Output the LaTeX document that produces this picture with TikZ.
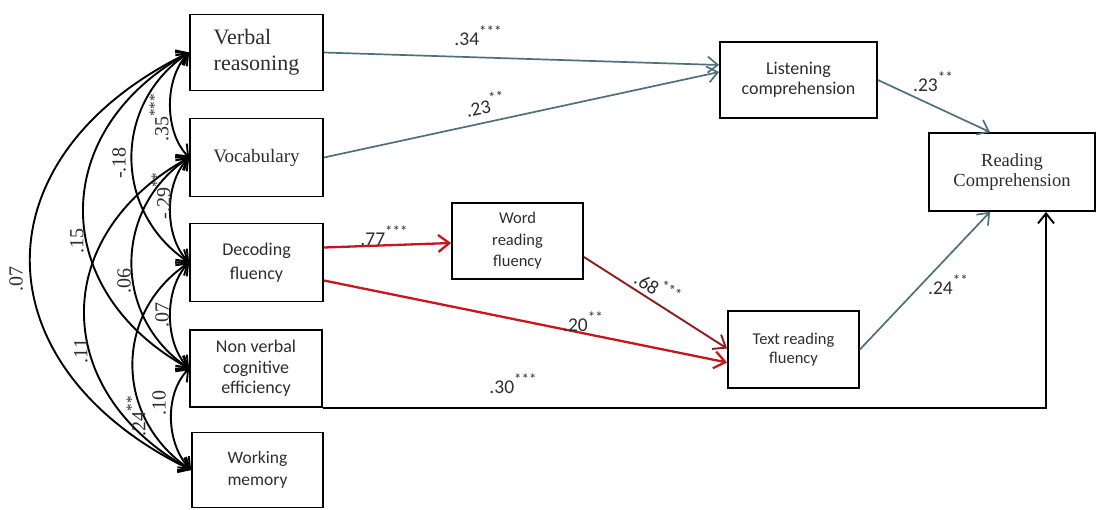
\documentclass[tikz,border=0pt]{standalone}
\usepackage{fontspec}
\setmainfont{Carlito}
\newfontfamily\serifbox{Liberation Serif}
\usetikzlibrary{arrows.meta}
\definecolor{tealc}{RGB}{78,112,124}
\definecolor{redc}{RGB}{200,22,30}
\definecolor{dredc}{RGB}{140,30,30}
\definecolor{txt}{RGB}{45,45,45}
\newcommand\sig[1]{\raisebox{0.45em}{\fontsize{15}{15}\selectfont #1}}
\begin{document}
\begin{tikzpicture}[x=1pt,y=-1pt,
  box/.style={draw=black, line width=1.8pt, inner sep=0pt, align=center, text=txt},
  corr/.style={draw=black, line width=1.9pt, {Straight Barb[length=10pt,width=16pt]}-{Straight Barb[length=10pt,width=16pt]}},
  tarrow/.style={draw=tealc, line width=1.7pt, -{Straight Barb[length=10pt,width=16pt]}},
  rarrow/.style={draw=redc, line width=2.3pt, -{Straight Barb[length=11pt,width=17pt]}},
  drarrow/.style={draw=dredc, line width=1.9pt, -{Straight Barb[length=11pt,width=17pt]}},
  barrow/.style={draw=black, line width=1.9pt, -{Straight Barb[length=10pt,width=16pt]}},
  lab/.style={font=\fontsize{19.5}{22}\selectfont, text=txt, inner sep=1pt},
  slab/.style={font=\serifbox\fontsize{20}{22}\selectfont, text=txt, inner sep=1pt, rotate=90},
  sa/.style={out=226,in=134,distance=36pt},
  sb/.style={out=214,in=146,distance=92pt},
  sc/.style={out=209,in=151,distance=161pt},
  sd/.style={out=206,in=154,distance=237pt}
]
\useasboundingbox (0,0) rectangle (1097,509);

% left boxes
\node[box, minimum width=133pt, minimum height=76pt, align=left, font=\serifbox\fontsize{22}{26}\selectfont] (vr) at (256.5,52.5) {Verbal\\reasoning};
\node[box, minimum width=133pt, minimum height=78pt, font=\serifbox\fontsize{19}{22}\selectfont] (voc) at (256.5,157.5) {Vocabulary};
\node[box, minimum width=133pt, minimum height=78pt, font=\fontsize{18}{24}\selectfont] (dec) at (256.5,262.5) {Decoding\\fluency};
\node[box, minimum width=132pt, minimum height=77pt, font=\fontsize{18}{20.5}\selectfont] (nv) at (256,368.5) {Non verbal\\cognitive\\efficiency};
\node[box, minimum width=131pt, minimum height=75pt, font=\fontsize{17.5}{22}\selectfont] (wm) at (257.5,470) {Working\\memory};

% right boxes
\node[box, minimum width=157pt, minimum height=76pt, font=\fontsize{18}{20.5}\selectfont] (lc) at (798.5,80) {Listening\\comprehension};
\node[box, minimum width=166pt, minimum height=78pt, font=\serifbox\fontsize{18.5}{20.5}\selectfont] (rc) at (1012,172) {Reading\\Comprehension};
\node[box, minimum width=131pt, minimum height=76pt, font=\fontsize{16.5}{21.5}\selectfont] (wrf) at (517.5,241) {Word\\reading\\fluency};
\node[box, minimum width=131pt, minimum height=77pt, font=\fontsize{16.5}{19.5}\selectfont] (trf) at (793.5,349.5) {Text reading\\fluency};

% correlations
\draw[corr] (vr.west) to[sa] (voc.west);
\draw[corr] (vr.west) to[sb] (dec.west);
\draw[corr] (vr.west) to[sc] (nv.west);
\draw[corr] (vr.west) to[sd] (wm.west);
\draw[corr] (voc.west) to[sa] (dec.west);
\draw[corr] (voc.west) to[sb] (nv.west);
\draw[corr] (voc.west) to[sc] (wm.west);
\draw[corr] (dec.west) to[sa] (nv.west);
\draw[corr] (dec.west) to[sb] (wm.west);
\draw[corr] (nv.west) to[sa] (wm.west);

\node[slab] (l35) at (159,118) {.35\sig{***}};
\node[slab] (l18) at (119,163) {-.18};
\node[slab] (l15) at (77,241) {.15};
\node[slab] (l07a) at (16,279) {.07};
\node[slab] (l29) at (161,196) {-.29\sig{**}};
\node[slab] (l06) at (124,281) {.06};
\node[slab] (l11) at (81,351) {.11};
\node[slab] (l07b) at (162,315) {.07};
\node[slab] (l24a) at (136,416) {.24\sig{**}};
\node[slab] (l10) at (159,403) {.10};

% paths
\draw[tarrow] (vr.east) -- ([yshift=15pt]lc.west);
\draw[tarrow] (voc.east) -- ([yshift=8pt]lc.west);
\draw[tarrow] (lc.east) -- ([xshift=-22pt]rc.north);
\draw[tarrow] (trf.east) -- ([xshift=-22pt]rc.south);
\draw[rarrow] ([yshift=15pt]dec.east) -- ([yshift=-2pt]wrf.west);
\draw[rarrow] ([yshift=-18pt]dec.east) -- ([yshift=-13pt]trf.west);
\draw[drarrow] ([yshift=-16pt]wrf.east) -- ([yshift=1pt]trf.west);
\draw[barrow] (nv.south east) -| ([xshift=34pt]rc.south);

\node[lab] (l34) at (478,36) {.34\sig{***}};
\node[lab, rotate=12] (l23a) at (485,104) {.23\sig{**}};
\node[lab] (l23b) at (933,82) {.23\sig{**}};
\node[lab] (l77) at (384,236) {.77\sig{***}};
\node[lab, rotate=-32] (l68) at (658,287) {.68\sig{***}};
\node[lab] (l20) at (583,322) {.20\sig{**}};
\node[lab] (l24b) at (948,285) {.24\sig{**}};
\node[lab] (l30) at (513,384) {.30\sig{***}};
\end{tikzpicture}
\end{document}
